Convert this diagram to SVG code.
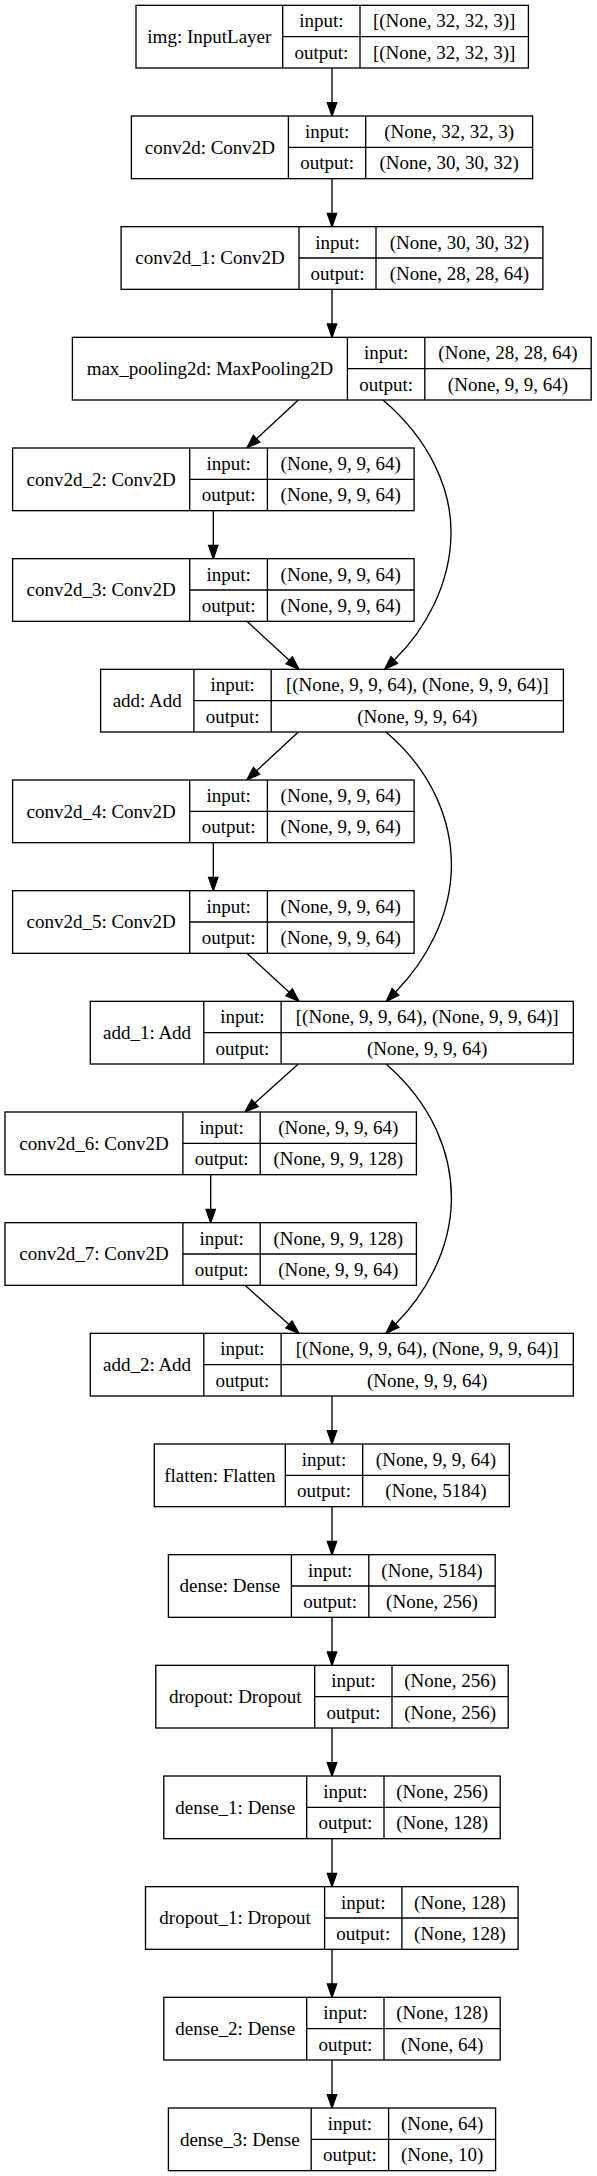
<svg xmlns="http://www.w3.org/2000/svg" width="597" height="2176" viewBox="0 0 597 2176">
<style>
.node rect{fill:#fff;stroke:#000;stroke-width:1.33}
.node line{stroke:#000;stroke-width:1.33}
.node text{font-family:"Liberation Serif","Times New Roman",serif;font-size:19px;fill:#000;text-anchor:middle}
.edges path{fill:none;stroke:#000;stroke-width:1.33;marker-end:url(#ah)}
</style>
<defs>
<marker id="ah" markerUnits="userSpaceOnUse" markerWidth="14" markerHeight="10" viewBox="0 -5 14 10" refX="0" refY="0" orient="auto" overflow="visible"><path d="M0,-4.67 L13.33,0 L0,4.67 Z" fill="#000" stroke="#000" stroke-width="1.33"/></marker>
</defs>
<rect x="0" y="0" width="597" height="2176" fill="#fff"/>
<g class="edges" id="connectors">
<path d="M332,68 V102.67"/>
<path d="M332,178.67 V213.33"/>
<path d="M332,289.33 V324"/>
<path d="M298.3,400 L256.6,438.8"/>
<path d="M383,400 C430,440 452,490 451,535 C450,585 425,630 394.2,660"/>
<path d="M213.3,510.67 V545.33"/>
<path d="M246.9,621.33 L289.2,660.3"/>
<path d="M298.3,732 L256.6,770.8"/>
<path d="M386,732 C433,772 452,822 451.4,867 C450.8,917 425,962 395.5,992"/>
<path d="M213.3,842.67 V877.33"/>
<path d="M246.9,953.33 L289.2,992.3"/>
<path d="M298.3,1064 L254.9,1103.1"/>
<path d="M386,1064 C433,1104.7 452,1154.7 451.4,1199.7 C450.8,1249.7 425,1294.7 395.5,1324"/>
<path d="M210.7,1174.67 V1209.33"/>
<path d="M245,1285.33 L289,1324.5"/>
<path d="M332,1396 V1430.67"/>
<path d="M332,1506.67 V1541.33"/>
<path d="M332,1617.33 V1652"/>
<path d="M332,1728 V1762.67"/>
<path d="M332,1838.67 V1873.33"/>
<path d="M332,1949.33 V1984"/>
<path d="M332,2060 V2094.67"/>
</g>
<g class="node" id="img">
<rect x="136" y="5.33" width="392.4" height="62.67"/>
<line x1="282.7" y1="5.33" x2="282.7" y2="68"/><line x1="360" y1="5.33" x2="360" y2="68"/><line x1="282.7" y1="36.67" x2="528.4" y2="36.67"/>
<text x="209.35" y="42.93">img: InputLayer</text><text x="321.35" y="27.33">input:</text><text x="321.35" y="58.63">output:</text><text x="444.2" y="27.33">[(None, 32, 32, 3)]</text><text x="444.2" y="58.63">[(None, 32, 32, 3)]</text>
</g>
<g class="node" id="conv2d">
<rect x="131.4" y="116" width="401.2" height="62.67"/>
<line x1="288.4" y1="116" x2="288.4" y2="178.67"/><line x1="365.7" y1="116" x2="365.7" y2="178.67"/><line x1="288.4" y1="147.33" x2="532.6" y2="147.33"/>
<text x="209.9" y="153.6">conv2d: Conv2D</text><text x="327.05" y="138">input:</text><text x="327.05" y="169.3">output:</text><text x="449.15" y="138">(None, 32, 32, 3)</text><text x="449.15" y="169.3">(None, 30, 30, 32)</text>
</g>
<g class="node" id="conv2d_1">
<rect x="121.1" y="226.67" width="421.8" height="62.67"/>
<line x1="299" y1="226.67" x2="299" y2="289.33"/><line x1="376" y1="226.67" x2="376" y2="289.33"/><line x1="299" y1="258" x2="542.9" y2="258"/>
<text x="210.05" y="264.27">conv2d_1: Conv2D</text><text x="337.5" y="248.67">input:</text><text x="337.5" y="279.97">output:</text><text x="459.45" y="248.67">(None, 30, 30, 32)</text><text x="459.45" y="279.97">(None, 28, 28, 64)</text>
</g>
<g class="node" id="max_pooling2d">
<rect x="72.4" y="337.33" width="518.8" height="62.67"/>
<line x1="347.4" y1="337.33" x2="347.4" y2="400"/><line x1="424.8" y1="337.33" x2="424.8" y2="400"/><line x1="347.4" y1="368.67" x2="591.2" y2="368.67"/>
<text x="209.9" y="374.93">max_pooling2d: MaxPooling2D</text><text x="386.1" y="359.33">input:</text><text x="386.1" y="390.63">output:</text><text x="508" y="359.33">(None, 28, 28, 64)</text><text x="508" y="390.63">(None, 9, 9, 64)</text>
</g>
<g class="node" id="conv2d_2">
<rect x="12.6" y="448" width="401.5" height="62.67"/>
<line x1="189.7" y1="448" x2="189.7" y2="510.67"/><line x1="267.4" y1="448" x2="267.4" y2="510.67"/><line x1="189.7" y1="479.33" x2="414.1" y2="479.33"/>
<text x="101.15" y="485.6">conv2d_2: Conv2D</text><text x="228.55" y="470">input:</text><text x="228.55" y="501.3">output:</text><text x="340.75" y="470">(None, 9, 9, 64)</text><text x="340.75" y="501.3">(None, 9, 9, 64)</text>
</g>
<g class="node" id="conv2d_3">
<rect x="12.6" y="558.67" width="401.5" height="62.67"/>
<line x1="189.7" y1="558.67" x2="189.7" y2="621.33"/><line x1="267.4" y1="558.67" x2="267.4" y2="621.33"/><line x1="189.7" y1="590" x2="414.1" y2="590"/>
<text x="101.15" y="596.27">conv2d_3: Conv2D</text><text x="228.55" y="580.67">input:</text><text x="228.55" y="611.97">output:</text><text x="340.75" y="580.67">(None, 9, 9, 64)</text><text x="340.75" y="611.97">(None, 9, 9, 64)</text>
</g>
<g class="node" id="add">
<rect x="100.6" y="669.33" width="462.8" height="62.67"/>
<line x1="193.9" y1="669.33" x2="193.9" y2="732"/><line x1="271.2" y1="669.33" x2="271.2" y2="732"/><line x1="193.9" y1="700.67" x2="563.4" y2="700.67"/>
<text x="147.25" y="706.93">add: Add</text><text x="232.55" y="691.33">input:</text><text x="232.55" y="722.63">output:</text><text x="417.3" y="691.33">[(None, 9, 9, 64), (None, 9, 9, 64)]</text><text x="417.3" y="722.63">(None, 9, 9, 64)</text>
</g>
<g class="node" id="conv2d_4">
<rect x="12.6" y="780" width="401.5" height="62.67"/>
<line x1="189.7" y1="780" x2="189.7" y2="842.67"/><line x1="267.4" y1="780" x2="267.4" y2="842.67"/><line x1="189.7" y1="811.33" x2="414.1" y2="811.33"/>
<text x="101.15" y="817.6">conv2d_4: Conv2D</text><text x="228.55" y="802">input:</text><text x="228.55" y="833.3">output:</text><text x="340.75" y="802">(None, 9, 9, 64)</text><text x="340.75" y="833.3">(None, 9, 9, 64)</text>
</g>
<g class="node" id="conv2d_5">
<rect x="12.6" y="890.67" width="401.5" height="62.67"/>
<line x1="189.7" y1="890.67" x2="189.7" y2="953.33"/><line x1="267.4" y1="890.67" x2="267.4" y2="953.33"/><line x1="189.7" y1="922" x2="414.1" y2="922"/>
<text x="101.15" y="928.27">conv2d_5: Conv2D</text><text x="228.55" y="912.67">input:</text><text x="228.55" y="943.97">output:</text><text x="340.75" y="912.67">(None, 9, 9, 64)</text><text x="340.75" y="943.97">(None, 9, 9, 64)</text>
</g>
<g class="node" id="add_1">
<rect x="90.3" y="1001.33" width="483" height="62.67"/>
<line x1="203.8" y1="1001.33" x2="203.8" y2="1064"/><line x1="281.1" y1="1001.33" x2="281.1" y2="1064"/><line x1="203.8" y1="1032.67" x2="573.3" y2="1032.67"/>
<text x="147.05" y="1038.93">add_1: Add</text><text x="242.45" y="1023.33">input:</text><text x="242.45" y="1054.63">output:</text><text x="427.2" y="1023.33">[(None, 9, 9, 64), (None, 9, 9, 64)]</text><text x="427.2" y="1054.63">(None, 9, 9, 64)</text>
</g>
<g class="node" id="conv2d_6">
<rect x="5" y="1112" width="411.4" height="62.67"/>
<line x1="182.9" y1="1112" x2="182.9" y2="1174.67"/><line x1="260.2" y1="1112" x2="260.2" y2="1174.67"/><line x1="182.9" y1="1143.33" x2="416.4" y2="1143.33"/>
<text x="93.95" y="1149.6">conv2d_6: Conv2D</text><text x="221.55" y="1134">input:</text><text x="221.55" y="1165.3">output:</text><text x="338.3" y="1134">(None, 9, 9, 64)</text><text x="338.3" y="1165.3">(None, 9, 9, 128)</text>
</g>
<g class="node" id="conv2d_7">
<rect x="5" y="1222.67" width="411.4" height="62.67"/>
<line x1="182.9" y1="1222.67" x2="182.9" y2="1285.33"/><line x1="260.2" y1="1222.67" x2="260.2" y2="1285.33"/><line x1="182.9" y1="1254" x2="416.4" y2="1254"/>
<text x="93.95" y="1260.27">conv2d_7: Conv2D</text><text x="221.55" y="1244.67">input:</text><text x="221.55" y="1275.97">output:</text><text x="338.3" y="1244.67">(None, 9, 9, 128)</text><text x="338.3" y="1275.97">(None, 9, 9, 64)</text>
</g>
<g class="node" id="add_2">
<rect x="90.3" y="1333.33" width="483" height="62.67"/>
<line x1="203.8" y1="1333.33" x2="203.8" y2="1396"/><line x1="281.1" y1="1333.33" x2="281.1" y2="1396"/><line x1="203.8" y1="1364.67" x2="573.3" y2="1364.67"/>
<text x="147.05" y="1370.93">add_2: Add</text><text x="242.45" y="1355.33">input:</text><text x="242.45" y="1386.63">output:</text><text x="427.2" y="1355.33">[(None, 9, 9, 64), (None, 9, 9, 64)]</text><text x="427.2" y="1386.63">(None, 9, 9, 64)</text>
</g>
<g class="node" id="flatten">
<rect x="154.3" y="1444" width="355" height="62.67"/>
<line x1="285.3" y1="1444" x2="285.3" y2="1506.67"/><line x1="362.7" y1="1444" x2="362.7" y2="1506.67"/><line x1="285.3" y1="1475.33" x2="509.3" y2="1475.33"/>
<text x="219.8" y="1481.6">flatten: Flatten</text><text x="324" y="1466">input:</text><text x="324" y="1497.3">output:</text><text x="436" y="1466">(None, 9, 9, 64)</text><text x="436" y="1497.3">(None, 5184)</text>
</g>
<g class="node" id="dense">
<rect x="168.4" y="1554.67" width="326.8" height="62.67"/>
<line x1="291.4" y1="1554.67" x2="291.4" y2="1617.33"/><line x1="368.8" y1="1554.67" x2="368.8" y2="1617.33"/><line x1="291.4" y1="1586" x2="495.2" y2="1586"/>
<text x="229.9" y="1592.27">dense: Dense</text><text x="330.1" y="1576.67">input:</text><text x="330.1" y="1607.97">output:</text><text x="432" y="1576.67">(None, 5184)</text><text x="432" y="1607.97">(None, 256)</text>
</g>
<g class="node" id="dropout">
<rect x="155.8" y="1665.33" width="352.4" height="62.67"/>
<line x1="314.7" y1="1665.33" x2="314.7" y2="1728"/><line x1="392" y1="1665.33" x2="392" y2="1728"/><line x1="314.7" y1="1696.67" x2="508.2" y2="1696.67"/>
<text x="235.25" y="1702.93">dropout: Dropout</text><text x="353.35" y="1687.33">input:</text><text x="353.35" y="1718.63">output:</text><text x="450.1" y="1687.33">(None, 256)</text><text x="450.1" y="1718.63">(None, 256)</text>
</g>
<g class="node" id="dense_1">
<rect x="163.8" y="1776" width="336.4" height="62.67"/>
<line x1="306.7" y1="1776" x2="306.7" y2="1838.67"/><line x1="384" y1="1776" x2="384" y2="1838.67"/><line x1="306.7" y1="1807.33" x2="500.2" y2="1807.33"/>
<text x="235.25" y="1813.6">dense_1: Dense</text><text x="345.35" y="1798">input:</text><text x="345.35" y="1829.3">output:</text><text x="442.1" y="1798">(None, 256)</text><text x="442.1" y="1829.3">(None, 128)</text>
</g>
<g class="node" id="dropout_1">
<rect x="145.5" y="1886.67" width="372.6" height="62.67"/>
<line x1="324.6" y1="1886.67" x2="324.6" y2="1949.33"/><line x1="401.9" y1="1886.67" x2="401.9" y2="1949.33"/><line x1="324.6" y1="1918" x2="518.1" y2="1918"/>
<text x="235.05" y="1924.27">dropout_1: Dropout</text><text x="363.25" y="1908.67">input:</text><text x="363.25" y="1939.97">output:</text><text x="460" y="1908.67">(None, 128)</text><text x="460" y="1939.97">(None, 128)</text>
</g>
<g class="node" id="dense_2">
<rect x="163.8" y="1997.33" width="336.4" height="62.67"/>
<line x1="306.7" y1="1997.33" x2="306.7" y2="2060"/><line x1="384" y1="1997.33" x2="384" y2="2060"/><line x1="306.7" y1="2028.67" x2="500.2" y2="2028.67"/>
<text x="235.25" y="2034.93">dense_2: Dense</text><text x="345.35" y="2019.33">input:</text><text x="345.35" y="2050.63">output:</text><text x="442.1" y="2019.33">(None, 128)</text><text x="442.1" y="2050.63">(None, 64)</text>
</g>
<g class="node" id="dense_3">
<rect x="168.4" y="2108" width="327.2" height="62.67"/>
<line x1="311.2" y1="2108" x2="311.2" y2="2170.67"/><line x1="388.6" y1="2108" x2="388.6" y2="2170.67"/><line x1="311.2" y1="2139.33" x2="495.6" y2="2139.33"/>
<text x="239.8" y="2145.6">dense_3: Dense</text><text x="349.9" y="2130">input:</text><text x="349.9" y="2161.3">output:</text><text x="442.1" y="2130">(None, 64)</text><text x="442.1" y="2161.3">(None, 10)</text>
</g>
</svg>
